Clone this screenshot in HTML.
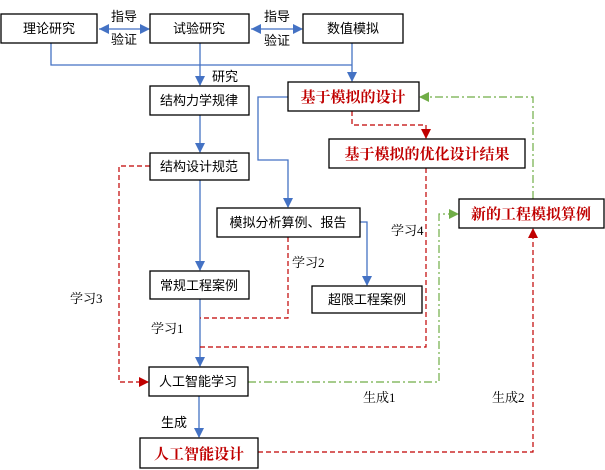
<!DOCTYPE html>
<html><head><meta charset="utf-8"><style>
html,body{margin:0;padding:0;background:#fff;}
svg{display:block;}
text{font-family:"Liberation Sans","Noto Sans CJK SC",sans-serif;font-size:13px;fill:#000;}
.r{fill:#c00000;font-weight:bold;font-size:15px;font-family:"Liberation Serif","Noto Serif CJK SC",serif;}
.b{font-family:"Liberation Serif","Noto Serif CJK SC",serif;font-size:13px;}
rect{fill:#fff;stroke:#000;stroke-width:1.3;}
.bl{stroke:#4472c4;stroke-width:1.3;fill:none;}
.rd{stroke:#c00000;stroke-width:1.2;fill:none;stroke-dasharray:5,3;}
.gr{stroke:#70ad47;stroke-width:1.2;fill:none;stroke-dasharray:8,3,2,3;}
</style></head><body>
<svg width="605" height="470" viewBox="0 0 605 470" xmlns="http://www.w3.org/2000/svg">
<defs>
<marker id="ab" markerWidth="10" markerHeight="10" refX="9" refY="5" orient="auto" markerUnits="userSpaceOnUse"><path d="M0,0 L10,5 L0,10 z" fill="#4472c4"/></marker>
<marker id="ar" markerWidth="10" markerHeight="10" refX="9" refY="5" orient="auto" markerUnits="userSpaceOnUse"><path d="M0,0 L10,5 L0,10 z" fill="#c00000"/></marker>
<marker id="ag" markerWidth="10" markerHeight="10" refX="9" refY="5" orient="auto" markerUnits="userSpaceOnUse"><path d="M0,0 L10,5 L0,10 z" fill="#70ad47"/></marker>
</defs>
<!-- blue connectors -->
<line class="bl" x1="99" y1="29" x2="149" y2="29" marker-start="url(#ab)" marker-end="url(#ab)" style="marker-start:none"/>
<path d="M99,29 l10,-5 v10z" fill="#4472c4"/>
<line class="bl" x1="251" y1="29" x2="302" y2="29" marker-end="url(#ab)"/>
<path d="M251,29 l10,-5 v10z" fill="#4472c4"/>
<path class="bl" d="M51,43 V65 H352"/>
<line class="bl" x1="200" y1="43" x2="200" y2="85" marker-end="url(#ab)"/>
<line class="bl" x1="352" y1="43" x2="352" y2="81" marker-end="url(#ab)"/>
<line class="bl" x1="200" y1="115" x2="200" y2="152" marker-end="url(#ab)"/>
<path class="bl" d="M288,97 H258 V160 H288 V207" marker-end="url(#ab)"/>
<line class="bl" x1="200" y1="180" x2="200" y2="270" marker-end="url(#ab)"/>
<path class="bl" d="M360,222 H367 V285" marker-end="url(#ab)"/>
<line class="bl" x1="200" y1="299" x2="200" y2="366" marker-end="url(#ab)"/>
<line class="bl" x1="199" y1="396" x2="199" y2="437" marker-end="url(#ab)"/>
<!-- red dashed -->
<path class="rd" d="M352,111 V125 H426 V138" marker-end="url(#ar)"/>
<path class="rd" d="M288,237 V318 H200"/>
<path class="rd" d="M426,168 V347 H200"/>
<path class="rd" d="M150,166 H119 V382 H148" marker-end="url(#ar)"/>
<path class="rd" d="M258,452 H533 V229" marker-end="url(#ar)"/>
<!-- green -->
<path class="gr" d="M533,199 V97 H420" marker-end="url(#ag)"/>
<path class="gr" d="M248,382 H439 V214 H458" marker-end="url(#ag)"/>
<!-- boxes -->
<rect x="1" y="14" width="96" height="29"/><text x="49" y="33" text-anchor="middle">理论研究</text>
<rect x="150" y="14" width="99" height="29"/><text x="199" y="33" text-anchor="middle">试验研究</text>
<rect x="303" y="14" width="100" height="29"/><text x="353" y="33" text-anchor="middle">数值模拟</text>
<rect x="150" y="86" width="99" height="29"/><text x="199" y="105" text-anchor="middle">结构力学规律</text>
<rect x="288" y="82" width="131" height="29"/><text class="r" x="353" y="102" text-anchor="middle">基于模拟的设计</text>
<rect x="329" y="139" width="196" height="29"/><text class="r" x="427" y="159" text-anchor="middle">基于模拟的优化设计结果</text>
<rect x="150" y="153" width="99" height="27"/><text x="199" y="171" text-anchor="middle">结构设计规范</text>
<rect x="217" y="208" width="143" height="29"/><text x="288" y="227" text-anchor="middle">模拟分析算例、报告</text>
<rect x="459" y="199" width="145" height="29"/><text class="r" x="531" y="219" text-anchor="middle">新的工程模拟算例</text>
<rect x="150" y="271" width="99" height="28"/><text x="199" y="290" text-anchor="middle">常规工程案例</text>
<rect x="312" y="286" width="110" height="27"/><text x="367" y="304" text-anchor="middle">超限工程案例</text>
<rect x="149" y="367" width="99" height="29"/><text x="198" y="386" text-anchor="middle">人工智能学习</text>
<rect x="140" y="438" width="118" height="30"/><text class="r" x="199" y="459" text-anchor="middle">人工智能设计</text>
<!-- labels -->
<text x="111" y="21">指导</text><text x="111" y="44">验证</text>
<text x="264" y="21">指导</text><text x="264" y="45">验证</text>
<text x="212" y="81">研究</text>
<text class="b" x="391" y="235">学习4</text>
<text class="b" x="292" y="267">学习2</text>
<text class="b" x="70" y="303">学习3</text>
<text class="b" x="151" y="333">学习1</text>
<text x="161" y="427">生成</text>
<text class="b" x="363" y="402">生成1</text>
<text class="b" x="492" y="402">生成2</text>
</svg>
</body></html>
